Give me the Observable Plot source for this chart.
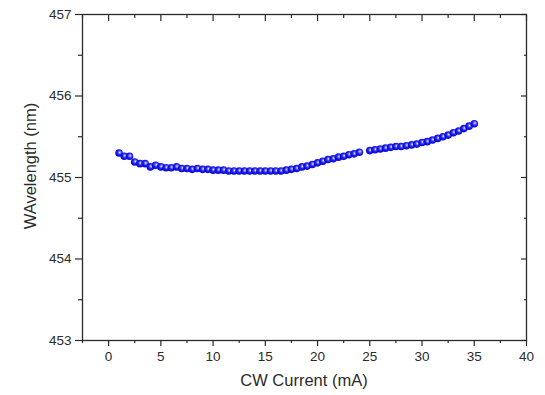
<!DOCTYPE html>
<html>
<head>
<meta charset="utf-8">
<script src="https://cdn.jsdelivr.net/npm/d3@7"></script>
<script src="https://cdn.jsdelivr.net/npm/@observablehq/plot@0.6"></script>
<style>
  html, body { margin: 0; padding: 0; background: #fff; }
  #chart svg { display: block; }
</style>
</head>
<body>
<div id="chart"></div>
<script>
// CW drive current (mA) — 0.5 mA steps, no reading at 24.5 mA
const current = [
  1, 1.5, 2, 2.5, 3, 3.5, 4, 4.5, 5, 5.5, 6, 6.5, 7, 7.5, 8, 8.5, 9, 9.5,
  10, 10.5, 11, 11.5, 12, 12.5, 13, 13.5, 14, 14.5, 15, 15.5, 16, 16.5,
  17, 17.5, 18, 18.5, 19, 19.5, 20, 20.5, 21, 21.5, 22, 22.5, 23, 23.5, 24,
  25, 25.5, 26, 26.5, 27, 27.5, 28, 28.5, 29, 29.5, 30, 30.5, 31, 31.5,
  32, 32.5, 33, 33.5, 34, 34.5, 35
];
// Peak emission wavelength (nm)
const wavelength = [
  455.30, 455.26, 455.26, 455.19, 455.17, 455.17, 455.13, 455.15, 455.13, 455.12,
  455.12, 455.13, 455.11, 455.11, 455.10, 455.11, 455.10, 455.10, 455.09, 455.09,
  455.09, 455.08, 455.08, 455.08, 455.08, 455.08, 455.08, 455.08, 455.08, 455.08,
  455.08, 455.08, 455.09, 455.10, 455.11, 455.13, 455.14, 455.16, 455.18, 455.20,
  455.22, 455.23, 455.25, 455.26, 455.28, 455.29, 455.31,
  455.33, 455.34, 455.35, 455.36, 455.37, 455.38, 455.38, 455.39, 455.40, 455.41,
  455.43, 455.44, 455.46, 455.48, 455.50, 455.52, 455.55, 455.57, 455.60, 455.63,
  455.66
];

const xMajor = [0, 5, 10, 15, 20, 25, 30, 35, 40];
const xMinor = [-2.5, 2.5, 7.5, 12.5, 17.5, 22.5, 27.5, 32.5, 37.5];
const yMajor = [453, 454, 455, 456, 457];
const yMinor = [453.5, 454.5, 455.5, 456.5];

const data = current.map((c, i) => ({current: c, wavelength: wavelength[i]}));

const ink = "#2b2b2b";
const font = "Liberation Sans, Arial, sans-serif";

const chart = Plot.plot({
  width: 545,
  height: 395,
  marginLeft: 82,
  marginRight: 19,
  marginTop: 14,
  marginBottom: 55,
  style: {fontFamily: font, color: ink, background: "#fff"},
  x: {domain: [-2.5, 40]},
  y: {domain: [453, 457]},
  marks: [
    Plot.frame({stroke: ink, strokeWidth: 1.3}),
    // bottom axis: labelled major ticks + short minor ticks
    Plot.axisX({ticks: xMajor, tickFormat: "d", tickSize: 6, tickPadding: 5, fontSize: 13.5,
      stroke: ink, strokeWidth: 1.2, label: null}),
    Plot.axisX({ticks: xMinor, tickSize: 3, text: null, stroke: ink, strokeWidth: 1.2, label: null}),
    // top mirror ticks, drawn inward
    Plot.axisX({anchor: "top", ticks: xMajor, tickSize: -6, text: null, stroke: ink, strokeWidth: 1.2, label: null}),
    Plot.axisX({anchor: "top", ticks: xMinor, tickSize: -3, text: null, stroke: ink, strokeWidth: 1.2, label: null}),
    // left axis
    Plot.axisY({ticks: yMajor, tickFormat: "d", tickSize: 7, tickPadding: 4, fontSize: 13.5,
      stroke: ink, strokeWidth: 1.2, label: null}),
    Plot.axisY({ticks: yMinor, tickSize: 4, text: null, stroke: ink, strokeWidth: 1.2, label: null}),
    // right mirror ticks, drawn inward
    Plot.axisY({anchor: "right", ticks: yMajor, tickSize: -6, text: null, stroke: ink, strokeWidth: 1.2, label: null}),
    Plot.axisY({anchor: "right", ticks: yMinor, tickSize: -3, text: null, stroke: ink, strokeWidth: 1.2, label: null}),
    // shaded spheres
    Plot.dot(data, {x: "current", y: "wavelength", r: 3.8, fill: "url(#ball)", stroke: "none"})
  ]
});

// radial gradient for the sphere markers
const svgNS = "http://www.w3.org/2000/svg";
const defs = document.createElementNS(svgNS, "defs");
const grad = document.createElementNS(svgNS, "radialGradient");
grad.setAttribute("id", "ball");
grad.setAttribute("cx", "0.58");
grad.setAttribute("cy", "0.42");
grad.setAttribute("r", "0.62");
[["0", "#ffffff"], ["0.2", "#8c8cff"], ["0.5", "#1e1eff"], ["1", "#0000b8"]].forEach(([o, c]) => {
  const s = document.createElementNS(svgNS, "stop");
  s.setAttribute("offset", o);
  s.setAttribute("stop-color", c);
  grad.appendChild(s);
});
defs.appendChild(grad);
chart.insertBefore(defs, chart.firstChild);

// axis titles
const xTitle = document.createElementNS(svgNS, "text");
xTitle.setAttribute("x", (82 + 526) / 2);
xTitle.setAttribute("y", 386);
xTitle.setAttribute("text-anchor", "middle");
xTitle.setAttribute("font-size", "16.5");
xTitle.setAttribute("font-family", font);
xTitle.setAttribute("fill", ink);
xTitle.textContent = "CW Current (mA)";
chart.appendChild(xTitle);

const yTitle = document.createElementNS(svgNS, "text");
yTitle.setAttribute("transform", "translate(36,166) rotate(-90)");
yTitle.setAttribute("text-anchor", "middle");
yTitle.setAttribute("font-size", "16.5");
yTitle.setAttribute("font-family", font);
yTitle.setAttribute("fill", ink);
yTitle.textContent = "WAvelength (nm)";
chart.appendChild(yTitle);

document.getElementById("chart").appendChild(chart);
</script>
</body>
</html>
